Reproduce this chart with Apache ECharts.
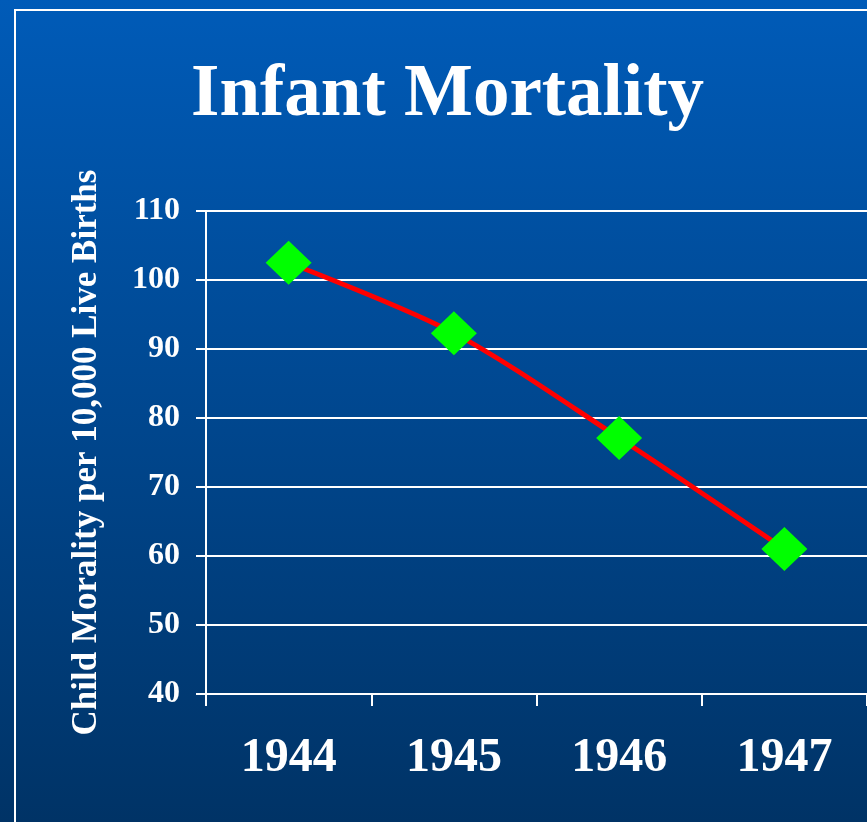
<!DOCTYPE html>
<html>
    <head>
        <meta charset="utf-8">
        <script src="https://cdn.jsdelivr.net/npm/echarts@6/dist/echarts.min.js"></script>
        <style>
            html, body {
                margin: 0;
                padding: 0;
            }
            #chart {
                width: 867px;
                height: 822px;
            }
        </style>
    </head>
    <body>
        <div id="chart"></div>

        <script>

        var years = ['1944', '1945', '1946', '1947'];
        var mortality = [102.5, 92.3, 77.1, 61.0];
        var yTicks = [40, 110, 10];   // min, max, interval

        var serif = '"Liberation Serif", "Times New Roman", serif';

        var myChart = echarts.init(document.getElementById('chart'));

        var option = {
            animation: false,
            backgroundColor: {
                type: 'linear',
                x: 0, y: 0, x2: 0, y2: 1,
                colorStops: [
                    { offset: 0, color: '#005bb8' },
                    { offset: 1, color: '#003366' }
                ]
            },
            title: {
                text: 'Infant Mortality',
                left: 186,
                top: 55,
                textStyle: {
                    color: '#fff',
                    fontFamily: serif,
                    fontWeight: 'bold',
                    fontSize: 73
                }
            },
            graphic: [{
                type: 'rect',
                shape: { x: 15, y: 10, width: 900, height: 900 },
                style: { fill: 'none', stroke: '#fff', lineWidth: 2 },
                silent: true
            }],
            grid: {
                left: 206,
                top: 211,
                width: 664,
                height: 483
            },
            xAxis: {
                type: 'category',
                data: years,
                axisLine: { lineStyle: { color: '#fff', width: 2 } },
                axisTick: { show: true, length: 12, lineStyle: { color: '#fff', width: 2 } },
                axisLabel: {
                    color: '#fff',
                    fontFamily: serif,
                    fontWeight: 'bold',
                    fontSize: 48,
                    margin: 41
                }
            },
            yAxis: {
                type: 'value',
                min: yTicks[0],
                max: yTicks[1],
                interval: yTicks[2],
                name: 'Child Morality per 10,000 Live Births',
                nameLocation: 'middle',
                nameGap: 102,
                nameTextStyle: {
                    color: '#fff',
                    fontFamily: serif,
                    fontWeight: 'bold',
                    fontSize: 35
                },
                axisLine: { show: true, lineStyle: { color: '#fff', width: 2 } },
                axisTick: { show: true, length: 10, lineStyle: { color: '#fff', width: 2 } },
                axisLabel: {
                    color: '#fff',
                    fontFamily: serif,
                    fontWeight: 'bold',
                    fontSize: 32,
                    margin: 26
                },
                splitLine: { show: true, lineStyle: { color: '#fff', width: 2 } }
            },
            series: [{
                type: 'line',
                data: mortality,
                smooth: 0.3,
                symbol: 'diamond',
                symbolSize: [46, 44],
                lineStyle: { color: '#ff0000', width: 5 },
                itemStyle: { color: '#00ff00' }
            }]
        };

        myChart.setOption(option);

        </script>
    </body>
</html>
